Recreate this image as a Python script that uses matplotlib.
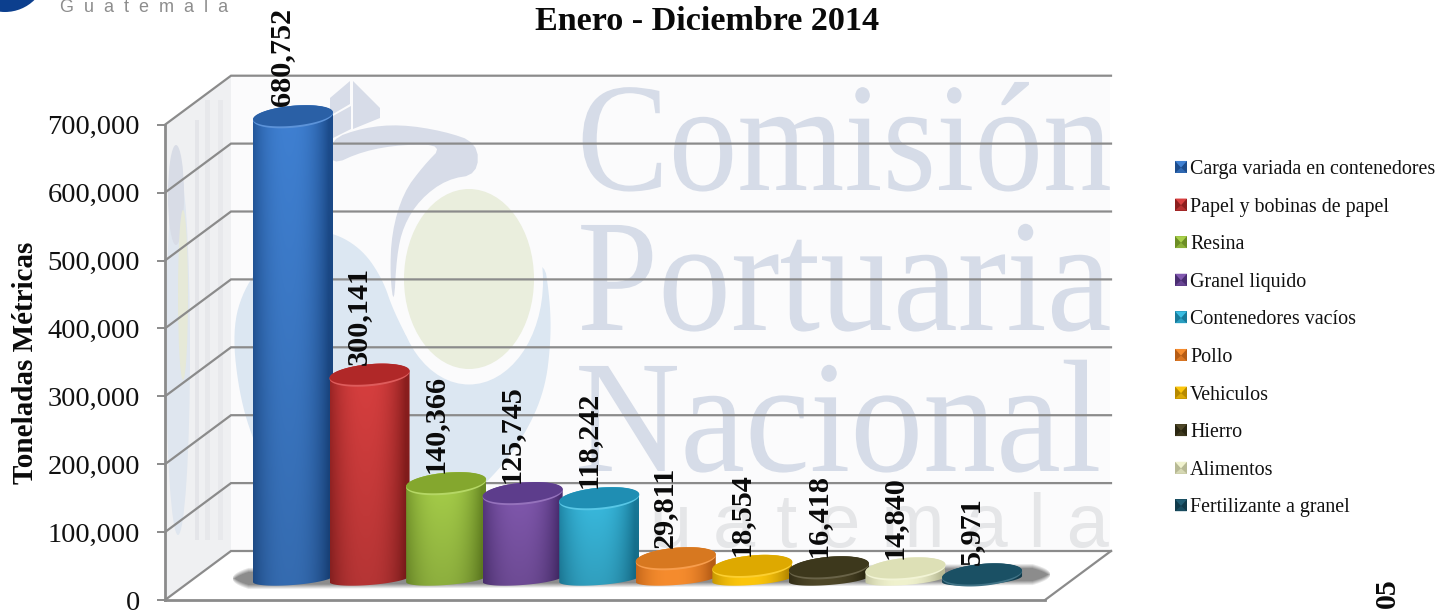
import numpy as np
import matplotlib
matplotlib.use("Agg")
import matplotlib.pyplot as plt
import matplotlib.patheffects as pe
from matplotlib.patches import Ellipse, Polygon, Patch, Rectangle
from matplotlib.path import Path
from matplotlib.transforms import Affine2D
from matplotlib.legend_handler import HandlerBase

plt.rcParams['font.family'] = ['Liberation Serif', 'DejaVu Serif']

categories = ["Carga variada en contenedores", "Papel y bobinas de papel", "Resina",
              "Granel liquido", "Contenedores vacíos", "Pollo", "Vehiculos", "Hierro",
              "Alimentos", "Fertilizante a granel"]
values = [680752, 300141, 140366, 125745, 118242, 29811, 18554, 16418, 14840, 5971]
tick_values = [0, 100000, 200000, 300000, 400000, 500000, 600000, 700000]
title = "Enero - Diciembre 2014"
y_label = "Toneladas Métricas"

center_colors = ["#3f80d2", "#d83f3f", "#a8d04a", "#8259b0", "#3abde2", "#f68c2e", "#fcc60c", "#4e4728", "#f0f2ce", "#215c72"]
edge_colors = ["#1c4c8c", "#8c1e1e", "#6c8d25", "#4a2d72", "#187b9b", "#b65c15", "#b68900", "#2a2611", "#b7b994", "#113a4a"]
top_colors = ["#2a60a6", "#b02828", "#84a72e", "#5d3d8c", "#1f8eb3", "#d77820", "#dea900", "#3d381c", "#dde0b6", "#1a5064"]

W, H = 1439, 613
PX_PER_CAT = 76.56
PX_PER_UNIT = 0.000679
X0_PX, Y0_PX = 293.0, 600.0


def px_x(p):
    return (p - X0_PX) / PX_PER_CAT


def px_y(p):
    return (Y0_PX - p) / PX_PER_UNIT


def smooth(pts, n=3):
    """Corner cutting, to round a decoration outline."""
    p = np.array(pts, dtype=float)
    for _ in range(n):
        q = np.roll(p, -1, axis=0)
        p = np.c_[0.75 * p + 0.25 * q, 0.25 * p + 0.75 * q].reshape(-1, 2)
    return p


class StretchY(pe.AbstractPathEffect):
    """Stretches a text vertically about its baseline (display coordinates)."""

    def __init__(self, base, k):
        super().__init__()
        self.base, self.k = base, k

    def draw_path(self, renderer, gc, tpath, affine, rgbFace=None):
        a = affine + Affine2D().translate(0, -self.base).scale(1, self.k).translate(0, self.base)
        renderer.draw_path(gc, tpath, a, rgbFace)


fig = plt.figure(figsize=(W / 100, H / 100), dpi=100, facecolor="white")

# ---------- background layer in pixel coordinates ----------
bg = fig.add_axes([0, 0, 1, 1], zorder=0)
bg.set_xlim(0, W)
bg.set_ylim(H, 0)
bg.axis("off")

WALL = "#fbfbfc"
wall = Polygon([(231, 76), (1110, 76), (1110, 551), (231, 551)], closed=True, fc=WALL, ec="none", zorder=1)
bg.add_patch(wall)
side = Polygon([(165, 125), (231, 76), (231, 551), (165, 600)], closed=True, fc="#eff0f2", ec="none", zorder=1)
bg.add_patch(side)
floor = Polygon([(165, 600), (1045, 600), (1110, 551), (231, 551)], closed=True, fc="white", ec="none", zorder=1)
bg.add_patch(floor)

# logo seen on the back wall
blue_pts = [(232, 330), (245, 285), (275, 250), (305, 233), (333, 232), (363, 250), (383, 280), (393, 310),
            (415, 353), (470, 300), (543, 253), (550, 300), (551, 340), (545, 390), (525, 435), (495, 475),
            (450, 515), (400, 545), (330, 560), (290, 520), (258, 453), (240, 400)]
band_zoom = [(0, 190), (100, 155), (210, 145), (340, 165), (443, 200), (443, 295), (350, 310), (270, 370),
             (220, 450), (200, 540), (192, 690), (180, 600), (185, 470), (220, 350), (280, 270), (340, 208),
             (220, 205), (100, 225), (0, 270)]
band_pts = [(330 + a / 3, 76 + b / 3) for a, b in band_zoom]
logo = [
    Polygon(smooth(blue_pts), closed=True, fc="#dce7f2", ec="none"),
    Ellipse((469, 281), 148, 207, fc=WALL, ec="none"),
    Polygon(smooth(band_pts, 2), closed=True, fc="#d7dce8", ec="none"),
    Polygon([(353, 81), (380, 108), (380, 118), (353, 129)], closed=True, fc="#d7dce8", ec="none"),
    Polygon([(330, 98), (350, 81), (350, 104), (333, 114), (330, 116)], closed=True, fc="#d7dce8", ec="none"),
    Polygon([(333, 116), (351, 106), (351, 129), (333, 138)], closed=True, fc="#d7dce8", ec="none"),
    Ellipse((469, 279), 130, 180, fc="#eaeedd", ec="none"),
]
for p in logo:
    bg.add_patch(p)
    p.set_zorder(2)
    p.set_clip_path(wall)

for txt, x, y, fs, k in [("Comisión", 577, 190, 99, 1.13), ("Portuaria", 577, 330, 105, 1.1), ("Nacional", 575, 471, 105, 1.1)]:
    bg.text(x, y, txt, fontsize=fs, color="#d6dce8", ha="left", va="baseline", zorder=3,
            path_effects=[StretchY(H - y, k)])
bg.text(570, 547, "G u a t e m a l a", fontsize=54.5, color="#e5e6e8", family="Liberation Sans",
        ha="left", va="baseline", zorder=3)

# logo squeezed on the side wall
side_bits = [
    Ellipse((178, 350), 24, 370, fc="#dfe6ef", ec="none"),
    Ellipse((176, 195), 16, 100, fc="#d8dce6", ec="none"),
    Ellipse((183, 295), 10, 170, fc="#e6e9d8", ec="none"),
    Rectangle((195, 120), 4, 420, fc="#e4e5e9", ec="none"),
    Rectangle((205, 100), 5, 440, fc="#e7e8eb", ec="none"),
    Rectangle((218, 100), 5, 440, fc="#e8e9ec", ec="none"),
]
for p in side_bits:
    bg.add_patch(p)
    p.set_zorder(2)
    p.set_clip_path(side)

# soft floor shadow, tapering at both ends
xx, yy = np.meshgrid(np.arange(225, 1060), np.arange(552, 600))
s = (xx - 236.0) / (1044.0 - 236.0)
half = 11.0 * np.clip(np.minimum((xx - 232) / 16.0, (1050 - xx) / 18.0), 0, 1) ** 0.45
mid = 578.0 - 4.0 * s
alpha = np.clip((half - np.abs(yy - mid)) / 5.0, 0, 1) * 0.78
rgba = np.zeros(xx.shape + (4,))
rgba[..., :3] = 0.42
rgba[..., 3] = alpha
bg.imshow(rgba, extent=(225, 1060, 600, 552), aspect="auto", zorder=4, interpolation="bilinear")
bg.set_xlim(0, W)
bg.set_ylim(H, 0)

# corner logo
bg.add_patch(Ellipse((5, -30), 84, 84, fc="#0c3f8e", ec="none", zorder=5))
bg.text(60, 12, "G  u  a  t  e  m  a  l  a", fontsize=13, color="#8d8d8d", family="Liberation Sans",
        ha="left", va="baseline", zorder=5)

# ---------- chart layer in data coordinates ----------
ax = fig.add_axes([0, 0, 1, 1], zorder=1)
ax.patch.set_alpha(0)
XL, XR = px_x(165), px_x(1045)
DX = 66 / PX_PER_CAT
DY = 49 / PX_PER_UNIT
GRID = "#8b8b8b"
LW = 1.6

for sp in ["top", "right"]:
    ax.spines[sp].set_visible(False)
ax.spines["left"].set_position(("data", XL))
ax.spines["bottom"].set_position(("data", 0))
ax.spines["left"].set_bounds(0, tick_values[-1])
ax.spines["bottom"].set_bounds(XL, XR)
for sp in ["left", "bottom"]:
    ax.spines[sp].set_color(GRID)
    ax.spines[sp].set_linewidth(2.0)
ax.set_xticks([])
ax.set_yticks(tick_values)
ax.set_yticklabels([f"{v:,.0f}" for v in tick_values])
ax.tick_params(axis="y", length=5.5, width=1.4, color=GRID, pad=12.5, labelsize=20.5, labelcolor="#111111")

for v in tick_values:
    ax.plot([XL, XL + DX, XR + DX], [v, v + DY, v + DY], color=GRID, lw=LW, zorder=2, solid_joinstyle="miter")
ax.plot([XR, XR + DX], [0, DY], color=GRID, lw=LW, zorder=2)

shift = ax.transData + Affine2D().translate(0, 21)
HW = 40 / PX_PER_CAT


def ring(i, v, hh_px, shear_px, t):
    x = i + HW * np.cos(t)
    y = v + (hh_px * np.sin(t) + shear_px * np.cos(t)) / PX_PER_UNIT
    return x, y


def rgb(c):
    return np.array(matplotlib.colors.to_rgb(c))


def mix(c1, c2, f):
    return rgb(c1) * (1 - f)[..., None] + rgb(c2) * f[..., None]


for i, v in enumerate(values):
    z = 10 + i
    tb = np.linspace(np.pi, 2 * np.pi, 60)
    tt = np.linspace(0, np.pi, 60)
    xb, yb = ring(i, 0, 6, 3, tb)
    xt, yt = ring(i, v, 11, 3.5, tt)
    verts = np.r_[np.c_[xb, yb], np.c_[xt, yt], [[xb[0], yb[0]]]]
    body = Path(verts, closed=True)
    # horizontal shading of the round side, a little darker towards the floor
    u = np.linspace(-1, 1, 120)
    shade = np.clip(1 - np.abs(u + 0.1) ** 2.4, 0, 1)
    grad = mix(edge_colors[i], center_colors[i], shade)[None, :, :]
    fade = np.linspace(1.0, 0.84, 40)[:, None, None] if v > 60000 else np.ones((40, 1, 1))
    img = np.clip(grad * fade, 0, 1)
    low = min(yb) - 1000
    high = max(yt) + 1000
    im = ax.imshow(img, extent=(i - HW, i + HW, low, high), aspect="auto", origin="upper", zorder=z,
                   interpolation="bilinear")
    im.set_transform(shift)
    im.set_clip_path(body, transform=shift)
    # lip and top face
    ta = np.linspace(0, 2 * np.pi, 120)
    xl, yl = ring(i, v, 11, 3.5, ta)
    light = 0.85 * rgb(center_colors[i]) + 0.15
    ax.add_patch(Polygon(np.c_[xl, yl], closed=True, fc=light, ec="none", transform=shift, zorder=z + 0.1))
    xc, yc = ring(i, v + 1.0 / PX_PER_UNIT, 10, 3.5, ta)
    ax.add_patch(Polygon(np.c_[xc, yc], closed=True, fc=top_colors[i], ec="none", transform=shift, zorder=z + 0.2))
    ax.annotate(f"{v:,.0f}", xy=(i, v), xycoords=shift, xytext=(-8, 7.5), textcoords="offset points",
                rotation=90, ha="center", va="bottom", fontsize=21.8, fontweight="bold", color="#0a0a0a", zorder=40)

ax.set_xlim(px_x(0), px_x(W))
ax.set_ylim(px_y(H), px_y(0))

ax.set_title(title, x=707 / W, y=(H - 30) / H, fontsize=24.6, fontweight="bold", color="#0a0a0a", va="baseline", pad=0)
ax.set_ylabel(y_label, fontsize=21, fontweight="bold", color="#0a0a0a")
ax.yaxis.set_label_coords(39 / W, (H - 363) / H)

ax.text(1387 / W, (H - 578) / H, "05", transform=ax.transAxes, rotation=90, ha="center", va="top",
        fontsize=21.5, fontweight="bold", color="#0a0a0a")


class HandlerBevel(HandlerBase):
    def create_artists(self, legend, handle, xd, yd, width, height, fontsize, trans):
        s_ = width
        y0 = (height - s_) / 2 - yd
        x0 = -xd
        base = Rectangle((x0, y0), s_, s_, fc=handle.get_edgecolor(), ec="none", transform=trans)
        tri = Polygon([(x0, y0 + s_), (x0 + s_, y0 + s_), (x0 + s_ / 2, y0 + s_ * 0.45)], closed=True,
                      fc=handle.get_facecolor(), ec="none", transform=trans)
        left = Polygon([(x0, y0), (x0 + s_, y0), (x0 + s_ / 2, y0 + s_ * 0.45)], closed=True,
                       fc=handle.get_facecolor(), ec="none", alpha=0.55, transform=trans)
        return [base, left, tri]


handles = [Patch(facecolor=c, edgecolor=e) for c, e in zip(center_colors, edge_colors)]
leg = ax.legend(handles, categories, handler_map={Patch: HandlerBevel()}, loc="upper left",
                bbox_to_anchor=(1175 / W, (H - 160) / H), bbox_transform=fig.transFigure, frameon=False,
                fontsize=14.4, borderpad=0, borderaxespad=0, labelspacing=0.93,
                handlelength=0.6, handleheight=0.6, handletextpad=0.15, labelcolor="#111111")
leg.set_zorder(50)

fig.savefig("out.png", dpi=100, facecolor="white")
